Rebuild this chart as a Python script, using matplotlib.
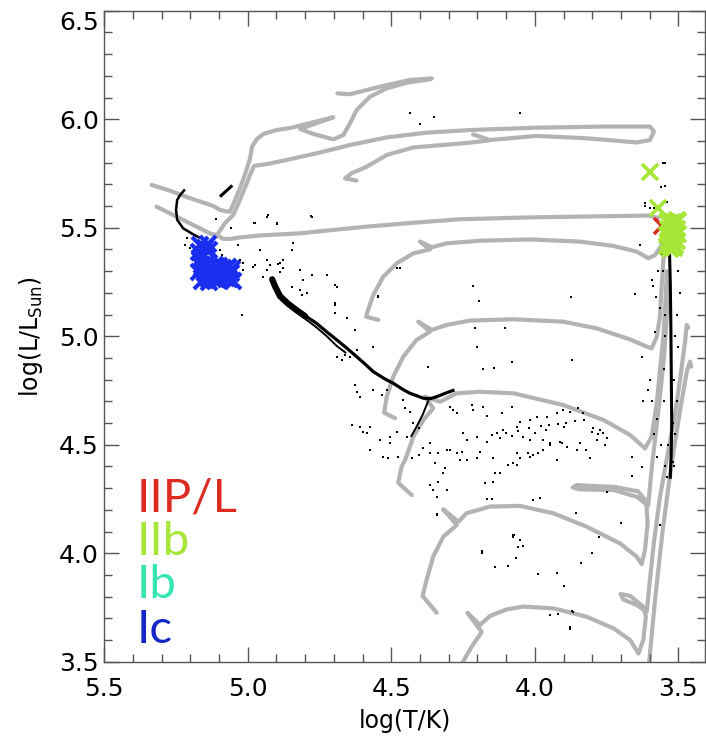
import matplotlib
matplotlib.use("Agg")
import matplotlib.pyplot as plt
from matplotlib.ticker import MultipleLocator, FixedLocator

# ---------------- evolutionary tracks (log T, log L) ----------------
trackA_T = [4.267,4.220,4.185,4.235,4.191,4.156,4.098,4.040,3.935,3.819,3.726,3.668,3.639,3.622,3.613,3.622,3.668,3.701,3.692,3.645,3.610,3.599,3.585,3.565,3.545,3.510,3.490,3.476,3.471,3.465]
trackA_L = [3.462,3.569,3.637,3.726,3.669,3.711,3.741,3.754,3.746,3.707,3.654,3.600,3.538,3.600,3.708,3.754,3.803,3.812,3.787,3.761,3.731,3.877,4.050,4.250,4.400,4.650,4.840,4.980,5.052,5.040]

trackB_T = [4.342,4.391,4.377,4.354,4.319,4.272,4.319,4.266,4.238,4.156,4.052,3.935,3.819,3.703,3.645,3.628,3.616,3.607,3.612,3.640,3.720,3.854,3.868,3.843,3.726,3.645,3.605,3.592,3.570,3.550,3.540,3.535]
trackB_L = [3.726,3.803,3.877,3.984,4.076,4.130,4.202,4.145,4.184,4.215,4.218,4.184,4.122,4.045,3.984,3.950,4.015,4.138,4.240,4.285,4.305,4.314,4.303,4.294,4.291,4.260,4.220,4.400,4.650,4.900,5.100,5.250]

trackC_T = [4.429,4.476,4.464,4.452,4.423,4.388,4.354,4.383,4.330,4.272,4.191,4.075,3.901,3.761,3.668,3.616,3.593,3.575,3.564,3.552,3.545,3.540]
trackC_L = [4.268,4.325,4.399,4.429,4.537,4.614,4.668,4.721,4.698,4.737,4.744,4.737,4.683,4.614,4.545,4.483,4.537,4.690,4.844,4.998,5.150,5.300]

trackD_T = [4.487,4.525,4.516,4.493,4.458,4.412,4.365,4.406,4.359,4.307,4.226,4.075,3.901,3.784,3.668,3.610,3.593,3.575,3.564,3.558,3.552,3.545]
trackD_L = [4.622,4.648,4.721,4.814,4.906,4.983,5.021,5.067,5.029,5.052,5.072,5.078,5.067,5.036,4.985,4.952,4.944,4.998,5.090,5.228,5.351,5.420]

trackE_T = [4.545,4.588,4.583,4.563,4.528,4.481,4.423,4.365,4.400,4.359,4.307,4.191,4.017,3.843,3.726,3.645,3.604,3.581,3.558,3.541]
trackE_L = [5.075,5.090,5.113,5.190,5.274,5.336,5.382,5.400,5.436,5.410,5.428,5.440,5.446,5.436,5.416,5.390,5.359,5.374,5.420,5.474]

trackF_T = [5.318,5.260,5.190,5.132,5.109,5.085,5.062,5.030,4.950,4.818,4.700,4.586,4.450,4.261,4.000,3.800,3.650,3.602,3.570]
trackF_L = [5.597,5.559,5.512,5.474,5.466,5.448,5.448,5.455,5.465,5.474,5.490,5.505,5.520,5.539,5.548,5.552,5.555,5.556,5.545]

trackT_T = [5.335,5.270,5.210,5.160,5.120,5.097,5.075,5.062,5.045,5.025,5.006,4.993,4.985,4.969,4.946,4.899,4.847,4.702,4.818,4.772,4.702,4.667,4.644,4.621,4.574,4.516,4.446,4.365,4.359,4.435,4.539,4.644,4.688]
trackT_L = [5.697,5.670,5.640,5.618,5.600,5.582,5.575,5.574,5.625,5.690,5.760,5.815,5.873,5.907,5.932,5.950,5.961,6.009,5.955,5.932,5.907,5.927,5.981,6.042,6.104,6.142,6.168,6.184,6.188,6.181,6.150,6.115,6.119]

trackP_T = [5.105,5.080,5.050,5.030,5.008,4.990,4.978,4.934,4.865,4.760,4.644,4.516,4.377,4.226,3.993,3.761,3.599,3.585,3.599,3.645,3.819,3.994,4.156,4.215]
trackP_L = [5.470,5.520,5.560,5.620,5.690,5.750,5.785,5.793,5.812,5.843,5.881,5.916,5.938,5.950,5.961,5.966,5.966,5.943,5.904,5.893,5.912,5.923,5.904,5.930]

trackQ_T = [4.621,4.661,4.640,4.586,4.516,4.423,4.330,4.226,4.160]
trackQ_L = [5.717,5.727,5.750,5.781,5.835,5.870,5.880,5.892,5.902]

trackG_T = [3.605,3.580,3.555,3.525,3.495,3.470,3.459,3.455]
trackG_L = [3.450,3.800,4.100,4.400,4.650,4.840,4.883,4.860]

tracks = [(trackA_T, trackA_L), (trackB_T, trackB_L), (trackC_T, trackC_L),
          (trackD_T, trackD_L), (trackE_T, trackE_L), (trackF_T, trackF_L),
          (trackT_T, trackT_L), (trackP_T, trackP_L), (trackQ_T, trackQ_L),
          (trackG_T, trackG_L)]

# ---------------- dense ridges of model points ----------------
ridge1_T = [4.915,4.905,4.888,4.860,4.830,4.795,4.760,4.725,4.690,4.655,4.621,4.590,4.563,4.525,4.493,4.460,4.435,4.410,4.388,4.365,4.340,4.310,4.285]
ridge1_L = [5.265,5.235,5.182,5.150,5.121,5.090,5.059,5.020,4.983,4.945,4.906,4.870,4.837,4.805,4.783,4.755,4.737,4.725,4.714,4.712,4.722,4.738,4.750]
ridgetop_T = [4.915,4.905,4.888,4.860,4.830,4.800]
ridgetop_L = [5.262,5.230,5.185,5.150,5.120,5.092]
ridge2_T = [4.912,4.895,4.870,4.840,4.800,4.760,4.725,4.690,4.660]
ridge2_L = [5.240,5.200,5.165,5.120,5.080,5.040,5.000,4.955,4.925]
ridge3_T = [4.372,4.390,4.412,4.430]
ridge3_L = [4.700,4.640,4.583,4.540]
chain_T = [5.222,5.236,5.246,5.250,5.246,5.225,5.196,5.170]
chain_L = [5.672,5.650,5.628,5.582,5.536,5.497,5.474,5.455]
dash_T = [5.093,5.058]
dash_L = [5.648,5.690]
column_T = [3.532,3.530,3.528,3.527,3.526,3.525,3.524,3.523,3.525,3.528]
column_L = [5.450,5.350,5.250,5.150,5.050,4.900,4.750,4.600,4.450,4.350]

dots_T = [5.213,5.219,5.201,5.190,5.097,5.091,5.074,5.062,5.039,5.027,5.016,4.981,4.958,4.934,4.928,4.899,4.975,4.934,4.893,4.876,4.847,4.841,4.818,4.806,4.778,4.778,5.020,5.050,5.045,5.060,5.035,
          4.435,4.400,4.351,4.781,4.978,4.899,5.111,4.052,
          4.470,4.690,4.696,4.656,4.627,4.545,4.214,4.193,4.208,4.104,4.203,4.371,4.179,4.142,4.081,3.875,3.871,3.651,3.633,3.627,3.624,
          4.295,4.285,4.272,4.220,4.214,4.179,4.168,4.115,4.081,4.063,4.052,4.017,3.993,3.959,3.924,3.901,3.877,3.848,3.831,3.796,3.773,3.761,3.785,3.750,4.040,4.017,3.970,3.947,3.912,3.889,3.854,4.249,4.237,4.203,4.168,4.133,4.110,4.423,4.405,4.446,4.504,4.539,4.586,4.609,4.574,4.528,4.307,4.272,4.336,4.365,4.063,4.017,
          4.150,4.100,4.060,4.020,3.980,3.950,3.920,3.890,3.860,3.830,4.120,4.080,4.000,3.960,3.900,3.800,3.780,
          4.365,4.354,4.336,4.319,4.307,4.342,4.340,4.174,4.144,4.168,4.150,4.005,3.982,4.075,4.077,4.057,4.042,4.066,4.185,4.139,4.092,3.988,3.924,3.898,3.840,3.776,3.858,3.750,3.662,3.625,3.564,3.947,3.877,3.866,4.510,4.475,4.429,4.405,4.388,4.365,4.348,4.313,4.295,4.261,4.255,4.237,4.203,4.191,4.145,4.139,4.121,4.092,4.075,4.063,4.052,4.023,4.005,3.988,3.970,3.947,3.924,3.906,3.843,3.808,3.820,3.756,3.663,3.575,
          3.593,3.588,3.572,3.578,3.565,3.580,3.600,3.605,3.590,3.575,3.585,3.560,3.552,3.546,3.546,3.562,3.616,3.600,3.586,3.617,3.540,3.500,3.495,3.505,3.500,3.505,3.510,3.515,3.540,3.545,3.550,3.550,3.548,3.545,3.510,3.515,3.520,3.535,3.530,3.520,3.555,3.560,3.542,
          4.073,4.050,4.184,3.869,3.920,3.877,4.341,3.700,3.800,
          4.946,4.934,4.923,4.888,4.876,4.847,4.818,4.812,4.795,4.778,4.725,4.696,4.696,4.696,4.655,4.626,4.690,4.673,4.661,4.644,4.621,4.563,4.545,4.481,4.371,4.626,4.621,4.609,4.563,4.534,4.516,4.458,4.452,4.435,5.021,5.016,4.975,4.888,4.638,4.597,4.574,4.505,4.481]
dots_L = [5.451,5.420,5.405,5.351,5.397,5.375,5.305,5.259,5.236,5.351,5.305,5.320,5.397,5.551,5.560,5.520,5.520,5.351,5.335,5.351,5.397,5.428,5.305,5.259,5.282,5.551,5.100,5.290,5.330,5.500,5.420,
          6.027,5.978,6.009,5.554,5.523,5.517,5.538,6.027,
          5.313,5.228,5.144,5.082,5.029,5.185,5.231,5.162,5.036,5.036,4.952,4.860,4.847,4.855,4.883,5.179,4.890,5.194,5.420,4.906,4.700,
          4.675,4.660,4.645,4.683,4.660,4.675,4.630,4.645,4.675,4.583,4.605,4.614,4.629,4.629,4.645,4.660,4.652,4.668,4.645,4.575,4.568,4.552,4.522,4.529,4.537,4.522,4.522,4.506,4.514,4.491,4.476,4.552,4.522,4.537,4.514,4.552,4.568,4.598,4.575,4.537,4.506,4.522,4.552,4.583,4.476,4.445,4.476,4.460,4.460,4.460,4.460,4.445,
          4.545,4.555,4.565,4.575,4.585,4.590,4.595,4.600,4.610,4.615,4.530,4.540,4.555,4.570,4.580,4.560,4.550,
          4.314,4.291,4.330,4.368,4.291,4.261,4.176,4.322,4.330,4.248,4.248,4.245,4.253,4.084,4.076,4.027,4.033,3.976,4.002,3.935,3.941,3.903,3.910,3.850,3.956,4.073,4.184,4.284,4.356,4.396,4.130,3.715,3.651,3.731,4.437,4.445,4.437,4.452,4.483,4.506,4.414,4.391,4.476,4.430,4.468,4.430,4.437,4.468,4.437,4.368,4.368,4.406,4.414,4.406,4.437,4.460,4.452,4.460,4.476,4.499,4.430,4.506,4.506,4.437,4.475,4.499,4.445,4.445,
          5.259,5.230,5.300,5.180,5.130,5.020,4.800,4.750,4.700,4.620,4.550,4.500,5.797,5.800,5.692,5.688,5.600,5.590,5.590,5.613,5.617,5.300,5.200,5.100,4.950,4.700,4.550,4.400,4.350,4.400,4.700,4.850,5.000,5.100,5.000,4.800,4.600,4.500,4.380,4.420,5.300,5.380,5.400,
          4.085,4.060,4.008,3.736,3.720,3.659,4.183,4.140,4.000,
          5.274,5.305,5.328,5.336,5.313,5.228,5.213,5.190,5.197,5.282,5.282,5.236,5.151,5.105,5.082,5.029,4.906,4.890,4.913,4.906,4.936,4.952,5.182,5.313,4.860,4.775,4.745,4.721,4.752,4.729,4.752,4.706,4.668,4.652,5.098,5.336,5.328,5.297,4.591,4.560,4.583,4.537,4.560]

# ---------------- supernova progenitors ----------------
ic_T = [5.165,5.150,5.140,5.170,5.155,5.135,5.160,5.145,5.130,5.115,5.100,5.085,5.070,5.055,5.170,5.150,5.125,5.110,5.095,5.080,5.060,5.140,5.120,5.100,5.075,5.160,5.135,5.105,5.090,5.065,5.050,5.165]
ic_L = [5.420,5.405,5.425,5.390,5.375,5.395,5.330,5.335,5.320,5.330,5.325,5.315,5.320,5.310,5.295,5.290,5.300,5.285,5.295,5.305,5.290,5.270,5.265,5.275,5.270,5.255,5.250,5.260,5.280,5.265,5.255,5.350]
iib_T = [3.540,3.530,3.520,3.510,3.500,3.535,3.525,3.515,3.505,3.540,3.530,3.520,3.510,3.500,3.535,3.525,3.515,3.505,3.540,3.530,3.520,3.510,3.530,3.515,3.599,3.570,3.505]
iib_L = [5.525,5.520,5.525,5.520,5.530,5.495,5.490,5.500,5.495,5.465,5.470,5.460,5.465,5.470,5.440,5.435,5.445,5.440,5.415,5.420,5.410,5.420,5.400,5.405,5.758,5.590,5.535]
iip_T = [3.556]
iip_L = [5.508]

legend_labels = ["IIP/L", "IIb", "Ib", "Ic"]
legend_colors = ["#dd2a22", "#a6e636", "#34e6b0", "#1426c8"]
ic_marker_color = "#1a2ef0"

xticks = [5.5, 5.0, 4.5, 4.0, 3.5]
yticks = [3.5, 4.0, 4.5, 5.0, 5.5, 6.0, 6.5]

# ---------------- figure ----------------
fig = plt.figure(figsize=(7.06, 7.43), dpi=100)
ax = fig.add_axes([0.1477, 0.1094, 0.8509, 0.8762])

gray = "#b3b3b3"
for tT, tL in tracks:
    ax.plot(tT, tL, color=gray, lw=3.0, solid_capstyle="round", solid_joinstyle="round", zorder=1)

ax.plot(ridge1_T, ridge1_L, color="k", lw=2.3, zorder=2)
ax.plot(ridgetop_T, ridgetop_L, color="k", lw=4.5, solid_capstyle="round", zorder=2)
ax.plot(ridge2_T, ridge2_L, color="k", lw=1.4, zorder=2)
ax.plot(ridge3_T, ridge3_L, color="k", lw=1.4, zorder=2)
ax.plot(chain_T, chain_L, color="k", lw=1.8, zorder=2)
ax.plot(dash_T, dash_L, color="k", lw=2.2, zorder=2)
ax.plot(column_T, column_L, color="k", lw=2.2, zorder=2)
ax.plot(dots_T, dots_L, "s", color="k", ms=1.7, mew=0, zorder=2)

ax.plot(iip_T, iip_L, "x", color=legend_colors[0], ms=11, mew=2.6, ls="none", zorder=3)
ax.plot(iib_T, iib_L, "x", color=legend_colors[1], ms=11, mew=2.6, ls="none", zorder=4)
ax.plot(ic_T, ic_L, "x", color=ic_marker_color, ms=11, mew=3.0, ls="none", zorder=5)

ax.set_xlim(5.5, 3.407)
ax.set_ylim(3.5, 6.5)
ax.xaxis.set_major_locator(FixedLocator(xticks))
ax.yaxis.set_major_locator(FixedLocator(yticks))
ax.xaxis.set_minor_locator(MultipleLocator(0.1))
ax.yaxis.set_minor_locator(MultipleLocator(0.1))
ax.set_xticklabels([f"{v:.1f}" for v in xticks])
ax.set_yticklabels([f"{v:.1f}" for v in yticks])
ax.tick_params(which="both", direction="in", top=True, right=True, colors="#555555", labelcolor="black", labelsize=18)
ax.tick_params(which="major", length=11, width=1.0)
ax.tick_params(which="minor", length=6, width=1.0)
ax.tick_params(axis="x", pad=11)
ax.tick_params(axis="y", pad=4)
for s in ax.spines.values():
    s.set_color("#555555")
    s.set_linewidth(1.0)

lbls = ax.get_yticklabels()
lbls[-1].set_va("top")

ax.set_xlabel("log(T/K)", fontsize=17, labelpad=6)
ax.set_ylabel(r"log(L/L$_{\mathregular{Sun}}$)", fontsize=17, labelpad=10)

ybase = [4.194, 3.992, 3.793, 3.586]
for lab, col, yb in zip(legend_labels, legend_colors, ybase):
    ax.text(5.386, yb, lab, color=col, fontsize=34, family="Lato", fontweight="normal",
            ha="left", va="baseline", zorder=6)

fig.savefig("out.png", dpi=100)
